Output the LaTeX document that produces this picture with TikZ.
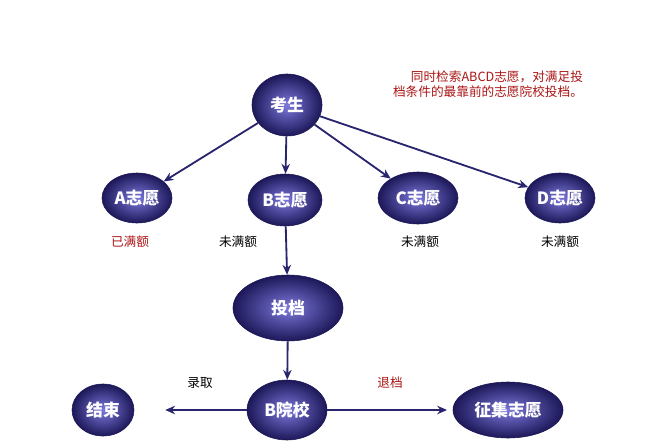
\documentclass[tikz,border=0pt]{standalone}
\usepackage{fontspec}
\setmainfont{Noto Sans CJK SC}
\usetikzlibrary{shapes.geometric,arrows.meta}
\definecolor{navy}{RGB}{40,36,110}
\definecolor{ballin}{RGB}{125,120,220}
\definecolor{ballout}{RGB}{28,24,88}
\definecolor{notered}{RGB}{170,20,20}
\tikzset{
  ball/.style={ellipse, draw=ballout, inner color=ballin, outer color=ballout,
    text=white, font=\bfseries\large, inner sep=0pt},
  arr/.style={-{Stealth[length=7pt,width=6pt]}, navy, line width=1.3pt},
  note/.style={font=\itshape\small}
}
\begin{document}
\begin{tikzpicture}[x=0.025cm,y=-0.025cm]
\useasboundingbox (0,0) rectangle (645,441);
% nodes
\node[ball, minimum width=70\pgflinewidth] (ks) at (287,105) [minimum width=1.75cm, minimum height=1.55cm] {考生};
\node[ball, minimum width=1.75cm, minimum height=1.25cm] (za) at (137,198) {A志愿};
\node[ball, minimum width=1.85cm, minimum height=1.3cm] (zb) at (285,200) {B志愿};
\node[ball, minimum width=2cm, minimum height=1.3cm] (zc) at (418,198) {C志愿};
\node[ball, minimum width=1.75cm, minimum height=1.25cm] (zd) at (560,198) {D志愿};
\node[ball, minimum width=2.75cm, minimum height=1.65cm] (td) at (288,308) {投档};
\node[ball, minimum width=2cm, minimum height=1.5cm] (yx) at (287,410) {B院校};
\node[ball, minimum width=1.55cm, minimum height=1.3cm] (js) at (103,410) {结束};
\node[ball, minimum width=2.75cm, minimum height=1.4cm] (zj) at (508,410) {征集志愿};
% labels
\node[note, text=notered] (la) at (130,242) {已满额};
\node[note] (lb) at (238,242) {未满额};
\node[note] (lc) at (420,242) {未满额};
\node[note] (ld) at (560,242) {未满额};
\node[note] (lq) at (200,383) {录取};
\node[note, text=notered] (lt) at (390,383) {退档};
\node[note, text=notered, align=right, font=\itshape\small] (tip) at (488,84)
  {同时检索ABCD志愿，对满足投\\档条件的最靠前的志愿院校投档。};
% arrows
\draw[arr] (ks) -- (za);
\draw[arr] (ks) -- (zb);
\draw[arr] (ks) -- (zc);
\draw[arr] (ks) -- (zd);
\draw[arr] (zb) -- (td);
\draw[arr] (td) -- (yx);
\draw[arr, shorten >=22pt] (yx) -- (js);
\draw[arr, shorten >=4pt] (yx) -- (zj);
\end{tikzpicture}
\end{document}
